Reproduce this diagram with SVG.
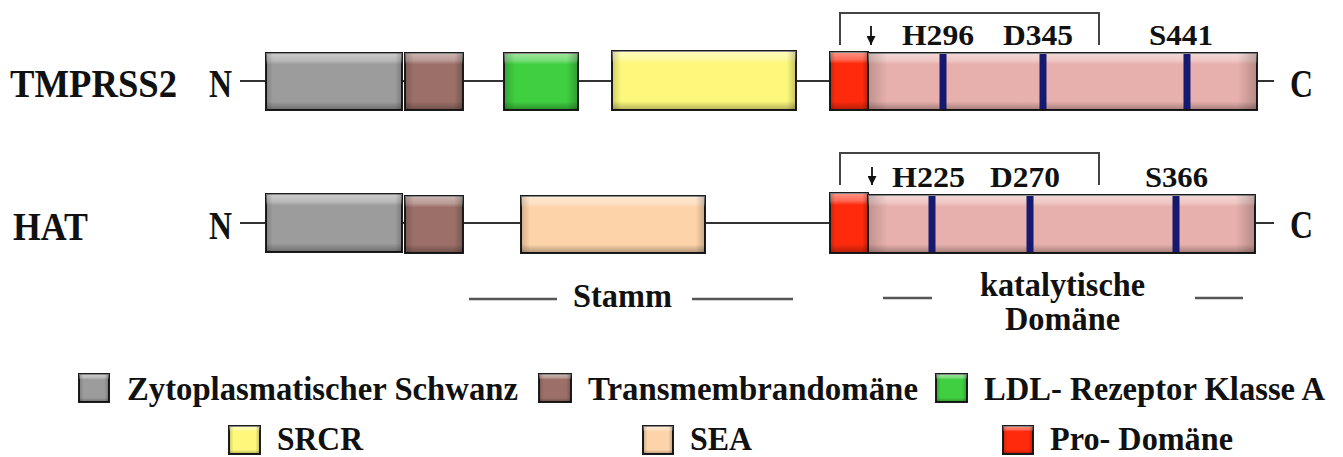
<svg xmlns="http://www.w3.org/2000/svg" width="1343" height="457" viewBox="0 0 1343 457">
<defs>
<linearGradient id="gv" x1="0" y1="0" x2="0" y2="1">
<stop offset="0" stop-color="#fff" stop-opacity="0.5"/>
<stop offset="0.13" stop-color="#fff" stop-opacity="0.3"/>
<stop offset="0.2" stop-color="#fff" stop-opacity="0"/>
<stop offset="0.85" stop-color="#000" stop-opacity="0"/>
<stop offset="1" stop-color="#000" stop-opacity="0.3"/>
</linearGradient>
<linearGradient id="gh" x1="0" y1="0" x2="1" y2="0">
<stop offset="0" stop-color="#000" stop-opacity="0.18"/>
<stop offset="0.05" stop-color="#000" stop-opacity="0"/>
<stop offset="0.95" stop-color="#000" stop-opacity="0"/>
<stop offset="1" stop-color="#000" stop-opacity="0.22"/>
</linearGradient>
<linearGradient id="ghs" x1="0" y1="0" x2="1" y2="0">
<stop offset="0" stop-color="#000" stop-opacity="0.2"/>
<stop offset="0.15" stop-color="#000" stop-opacity="0"/>
<stop offset="0.85" stop-color="#000" stop-opacity="0"/>
<stop offset="1" stop-color="#000" stop-opacity="0.25"/>
</linearGradient>
<marker id="ah" viewBox="0 0 10 10" refX="10" refY="5" markerWidth="9" markerHeight="9" markerUnits="userSpaceOnUse" orient="auto">
<path d="M0,0 L10,5 L0,10 Z" fill="#111"/>
</marker>
</defs>
<style>
text{font-family:"Liberation Serif","Times New Roman",serif;font-weight:bold;fill:#111}
.box{stroke:#1c1c1c;stroke-width:2}
.ov{stroke:none}
.gray{fill:#9c9c9c}
.brown{fill:#9c7068}
.green{fill:#3fcf40}
.yellow{fill:#fdf87c}
.peach{fill:#fdd4aa}
.red{fill:#ff2a0c}
.pink{fill:#e8b0ac}
.site{fill:#151a70}
.bb{stroke:#333;stroke-width:2;fill:none}
.br{stroke:#444;stroke-width:2;fill:none}
.ul{stroke:#555;stroke-width:2.5;fill:none}
.lab{font-size:40px}
.res{font-size:30px}
.sub{font-size:33px}
.leg{font-size:34px}
</style>

<g id="connectors">
<path class="bb" d="M240,81 H266 M402,81 H405 M463,81 H504 M578,81 H612 M796,81 H830 M1257,81 H1274"/>
<path class="bb" d="M240,223 H266 M402,223 H405 M463,223 H521 M705,223 H830 M1255,223 H1274"/>
<path class="br" d="M840,45 V13 H1099 V45"/>
<path class="br" d="M840,185 V153 H1099 V185"/>
<line x1="871" y1="26" x2="871" y2="45" stroke="#111" stroke-width="1.8" marker-end="url(#ah)"/>
<line x1="872" y1="167" x2="872" y2="185" stroke="#111" stroke-width="1.8" marker-end="url(#ah)"/>
<path class="ul" d="M469,299 H557 M692,299 H793 M883,298 H932 M1195,298 H1243"/>
</g>

<g id="labels-left">
<text class="lab" x="10" y="97" textLength="167" lengthAdjust="spacingAndGlyphs">TMPRSS2</text>
<text class="lab" x="13" y="240" textLength="75" lengthAdjust="spacingAndGlyphs">HAT</text>
<text class="lab" x="209" y="97" textLength="23" lengthAdjust="spacingAndGlyphs">N</text>
<text class="lab" x="209" y="239" textLength="23" lengthAdjust="spacingAndGlyphs">N</text>
<text class="lab" x="1290" y="97" textLength="23" lengthAdjust="spacingAndGlyphs">C</text>
<text class="lab" x="1290" y="238" textLength="23" lengthAdjust="spacingAndGlyphs">C</text>
</g>

<g id="tmprss2-cyto"><rect class="box gray" x="266" y="53" width="136" height="57"/><rect class="ov" x="266" y="53" width="136" height="57" fill="url(#gv)"/><rect class="ov" x="266" y="53" width="136" height="57" fill="url(#gh)"/></g>
<g id="tmprss2-tm"><rect class="box brown" x="405" y="53" width="58" height="57"/><rect class="ov" x="405" y="53" width="58" height="57" fill="url(#gv)"/><rect class="ov" x="405" y="53" width="58" height="57" fill="url(#ghs)"/></g>
<g id="tmprss2-ldl"><rect class="box green" x="504" y="53" width="74" height="57"/><rect class="ov" x="504" y="53" width="74" height="57" fill="url(#gv)"/><rect class="ov" x="504" y="53" width="74" height="57" fill="url(#ghs)"/></g>
<g id="tmprss2-srcr"><rect class="box yellow" x="612" y="51" width="184" height="59"/><rect class="ov" x="612" y="51" width="184" height="59" fill="url(#gv)"/><rect class="ov" x="612" y="51" width="184" height="59" fill="url(#gh)"/></g>
<g id="tmprss2-pro"><rect class="box red" x="830" y="52" width="38" height="58"/><rect class="ov" x="830" y="52" width="38" height="58" fill="url(#gv)"/><rect class="ov" x="830" y="52" width="38" height="58" fill="url(#ghs)"/></g>
<g id="tmprss2-cat">
<rect class="box pink" x="868" y="53" width="389" height="57"/><rect class="ov" x="868" y="53" width="389" height="57" fill="url(#gv)"/><rect class="ov" x="868" y="53" width="389" height="57" fill="url(#gh)"/>
<rect class="site" x="939.5" y="54" width="7" height="55"/>
<rect class="site" x="1039.5" y="54" width="7" height="55"/>
<rect class="site" x="1183.5" y="54" width="7" height="55"/>
<text class="res" x="902" y="45" textLength="72" lengthAdjust="spacingAndGlyphs">H296</text>
<text class="res" x="1003" y="45" textLength="70" lengthAdjust="spacingAndGlyphs">D345</text>
<text class="res" x="1149" y="45" textLength="64" lengthAdjust="spacingAndGlyphs">S441</text>
</g>

<g id="hat-cyto"><rect class="box gray" x="266" y="194" width="136" height="58"/><rect class="ov" x="266" y="194" width="136" height="58" fill="url(#gv)"/><rect class="ov" x="266" y="194" width="136" height="58" fill="url(#gh)"/></g>
<g id="hat-tm"><rect class="box brown" x="405" y="196" width="58" height="57"/><rect class="ov" x="405" y="196" width="58" height="57" fill="url(#gv)"/><rect class="ov" x="405" y="196" width="58" height="57" fill="url(#ghs)"/></g>
<g id="hat-sea"><rect class="box peach" x="521" y="196" width="184" height="57"/><rect class="ov" x="521" y="196" width="184" height="57" fill="url(#gv)"/><rect class="ov" x="521" y="196" width="184" height="57" fill="url(#gh)"/></g>
<g id="hat-pro"><rect class="box red" x="830" y="193" width="38" height="60"/><rect class="ov" x="830" y="193" width="38" height="60" fill="url(#gv)"/><rect class="ov" x="830" y="193" width="38" height="60" fill="url(#ghs)"/></g>
<g id="hat-cat">
<rect class="box pink" x="868" y="195" width="387" height="58"/><rect class="ov" x="868" y="195" width="387" height="58" fill="url(#gv)"/><rect class="ov" x="868" y="195" width="387" height="58" fill="url(#gh)"/>
<rect class="site" x="928.5" y="196" width="7" height="56"/>
<rect class="site" x="1026.5" y="196" width="7" height="56"/>
<rect class="site" x="1172.5" y="196" width="7" height="56"/>
<text class="res" x="892" y="187" textLength="73" lengthAdjust="spacingAndGlyphs">H225</text>
<text class="res" x="990" y="187" textLength="70" lengthAdjust="spacingAndGlyphs">D270</text>
<text class="res" x="1145" y="187" textLength="63" lengthAdjust="spacingAndGlyphs">S366</text>
</g>

<g id="region-labels">
<text class="sub" x="573" y="307" textLength="99" lengthAdjust="spacingAndGlyphs">Stamm</text>
<text class="sub" x="980" y="296" textLength="165" lengthAdjust="spacingAndGlyphs">katalytische</text>
<text class="sub" x="1005" y="330" textLength="115" lengthAdjust="spacingAndGlyphs">Domäne</text>
</g>

<g id="legend">
<g id="leg-cyto"><rect class="box gray" x="79" y="374" width="30" height="28"/><rect class="ov" x="79" y="374" width="30" height="28" fill="url(#gv)"/><rect class="ov" x="79" y="374" width="30" height="28" fill="url(#ghs)"/>
<text class="leg" x="127" y="400" textLength="391" lengthAdjust="spacingAndGlyphs">Zytoplasmatischer Schwanz</text></g>
<g id="leg-tm"><rect class="box brown" x="539" y="374" width="32" height="28"/><rect class="ov" x="539" y="374" width="32" height="28" fill="url(#gv)"/><rect class="ov" x="539" y="374" width="32" height="28" fill="url(#ghs)"/>
<text class="leg" x="588" y="400" textLength="330" lengthAdjust="spacingAndGlyphs">Transmembrandomäne</text></g>
<g id="leg-ldl"><rect class="box green" x="936" y="374" width="31" height="28"/><rect class="ov" x="936" y="374" width="31" height="28" fill="url(#gv)"/><rect class="ov" x="936" y="374" width="31" height="28" fill="url(#ghs)"/>
<text class="leg" x="984" y="400" textLength="341" lengthAdjust="spacingAndGlyphs">LDL- Rezeptor Klasse A</text></g>
<g id="leg-srcr"><rect class="box yellow" x="229" y="426" width="31" height="28"/><rect class="ov" x="229" y="426" width="31" height="28" fill="url(#gv)"/><rect class="ov" x="229" y="426" width="31" height="28" fill="url(#ghs)"/>
<text class="leg" x="277" y="450" font-size="33" textLength="86" lengthAdjust="spacingAndGlyphs">SRCR</text></g>
<g id="leg-sea"><rect class="box peach" x="643" y="426" width="30" height="28"/><rect class="ov" x="643" y="426" width="30" height="28" fill="url(#gv)"/><rect class="ov" x="643" y="426" width="30" height="28" fill="url(#ghs)"/>
<text class="leg" x="690" y="450" font-size="33" textLength="62" lengthAdjust="spacingAndGlyphs">SEA</text></g>
<g id="leg-pro"><rect class="box red" x="1003" y="426" width="30" height="28"/><rect class="ov" x="1003" y="426" width="30" height="28" fill="url(#gv)"/><rect class="ov" x="1003" y="426" width="30" height="28" fill="url(#ghs)"/>
<text class="leg" x="1050" y="450" font-size="33" textLength="183" lengthAdjust="spacingAndGlyphs">Pro- Domäne</text></g>
</g>
</svg>
